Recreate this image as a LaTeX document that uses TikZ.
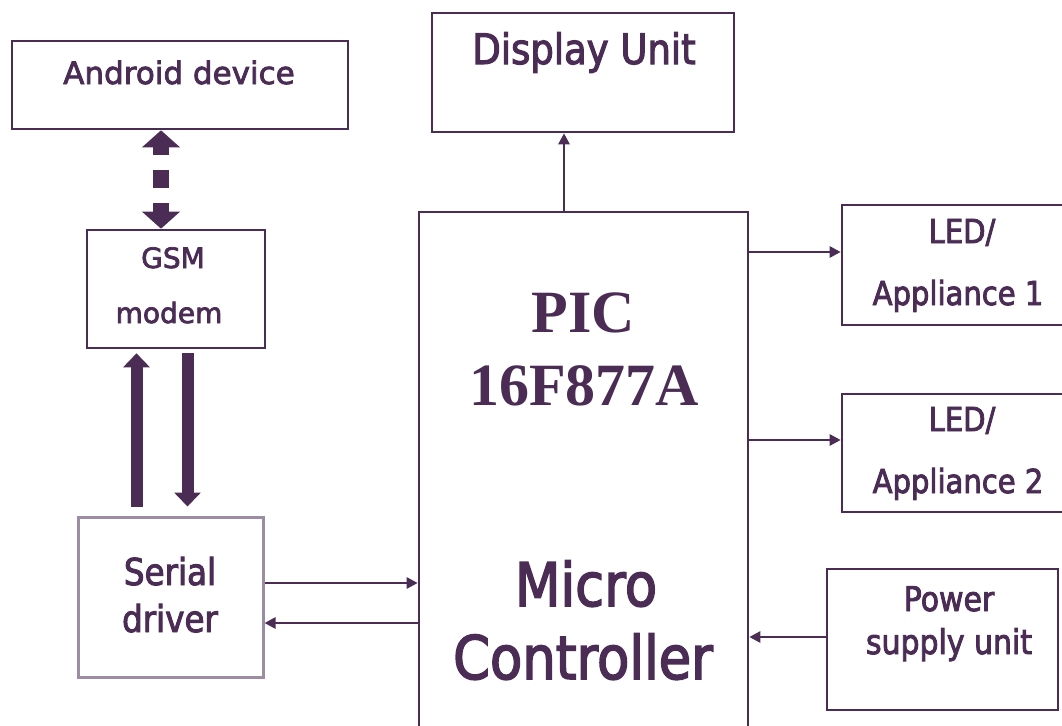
\documentclass[tikz,border=0pt]{standalone}
\usepackage{fontspec}
\setmainfont[FakeBold=2.6]{DejaVu Sans}
\newfontfamily\condfont[FakeStretch=0.88,FakeBold=2.6]{DejaVu Sans}
\newfontfamily\picfont{Liberation Serif}
\usetikzlibrary{arrows.meta,calc}
\definecolor{pur}{HTML}{4A2C55}
\definecolor{lpur}{HTML}{9C8CA4}
\tikzset{
  box/.style={draw=pur, line width=2.6pt, inner sep=0pt, fill=none},
  txt/.style={text=pur, anchor=base, inner sep=0pt},
  thinarrow/.style={draw=pur, line width=2.6pt, -{Triangle[length=11pt,width=11pt]}},
  fatarrow/.style={draw=pur, line width=12pt, -{Triangle[length=14pt,width=26pt]}},
  dasharrow/.style={draw=pur, line width=16pt, {Triangle[length=17pt,width=37pt]}-{Triangle[length=17pt,width=37pt]}, dash pattern=on 9pt off 15pt on 18pt off 15pt on 12pt off 0pt}
}
\newcommand{\fs}[1]{\fontsize{#1}{#1}\selectfont}
\begin{document}
\begin{tikzpicture}[x=1pt,y=-1pt]
\useasboundingbox (0,0) rectangle (1062,725);
\clip (0,0) rectangle (1062,725);
% boxes
\node[box, minimum width=336pt, minimum height=88pt] (android) at (180,85) {};
\node[box, minimum width=302pt, minimum height=119pt] (display) at (583,72.5) {};
\node[box, minimum width=178pt, minimum height=118pt] (gsm) at (176,289) {};
\node[box, draw=lpur, line width=3pt, minimum width=185pt, minimum height=160pt] (serial) at (170.5,597) {};
\node[box, minimum width=329pt, minimum height=528pt] (mc) at (583.5,476) {};
\node[box, minimum width=233pt, minimum height=120pt] (led1) at (958.5,265) {};
\node[box, minimum width=233pt, minimum height=118pt] (led2) at (958.5,453) {};
\node[box, minimum width=231pt, minimum height=141pt] (power) at (942.5,639.5) {};
% texts
\node[txt] (tandroid) at (179,84) {\fs{31}Android device};
\node[txt] (tdisplay) at (584,64) {\condfont\fs{42}Display Unit};
\node[txt] (tgsm1) at (173,268) {\fs{28}GSM};
\node[txt] (tgsm2) at (169,323) {\fs{28}modem};
\node[txt] (tser1) at (170,585) {\condfont\fs{37}Serial};
\node[txt] (tser2) at (170,632) {\condfont\fs{37}driver};
\node[txt] (tpic1) at (583,332) {\picfont\bfseries\fs{60}PIC};
\node[txt] (tpic2) at (584,405) {\picfont\bfseries\fs{60}16F877A};
\node[txt] (tmc1) at (586,606) {\condfont\fs{60}Micro};
\node[txt] (tmc2) at (583,679) {\condfont\fs{60}Controller};
\node[txt] (tled1a) at (962,243) {\condfont\fs{33}LED/};
\node[txt] (tled1b) at (958,305) {\condfont\fs{33}Appliance 1};
\node[txt] (tled2a) at (962,431) {\condfont\fs{33}LED/};
\node[txt] (tled2b) at (958,493) {\condfont\fs{33}Appliance 2};
\node[txt] (tpow1) at (949,611) {\condfont\fs{34}Power};
\node[txt] (tpow2) at (949,654) {\condfont\fs{34}supply unit};
% connector anchor points
\coordinate (dtop) at ([xshift=-19pt]android.south);
\coordinate (disp) at ([xshift=-19.5pt]mc.north);
\coordinate (l1) at ([yshift=13pt]led1.west);
\coordinate (l2) at ([yshift=13pt]led2.west);
\coordinate (pw) at ([yshift=2.5pt]power.west);
\coordinate (s1) at ([yshift=14pt]serial.east);
\coordinate (s2) at ([yshift=-26pt]serial.east);
\coordinate (up) at ([xshift=-34pt]serial.north);
\coordinate (dn) at ([xshift=17pt]serial.north);
% connectors
\draw[dasharrow] (dtop) -- (dtop |- gsm.north);
\draw[thinarrow] (disp) -- (disp |- display.south);
\draw[thinarrow] (l1 -| mc.east) -- (l1);
\draw[thinarrow] (l2 -| mc.east) -- (l2);
\draw[thinarrow] (pw) -- (pw -| mc.east);
\draw[thinarrow] (s1) -- (s1 -| mc.west);
\draw[thinarrow] (s2 -| mc.west) -- (s2);
\draw[fatarrow, shorten <=9pt, shorten >=4pt] (up) -- (up |- gsm.south);
\draw[fatarrow, shorten <=4pt, shorten >=9pt] (dn |- gsm.south) -- (dn);
\end{tikzpicture}
\end{document}
